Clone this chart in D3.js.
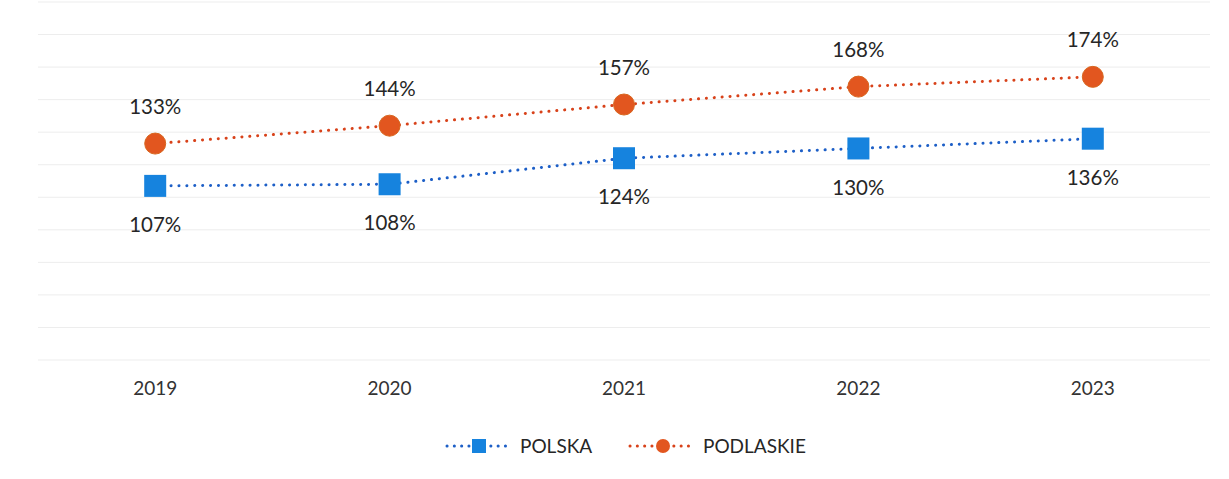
<!DOCTYPE html>
<html lang="pl">
<head>
<meta charset="UTF-8">
<script src="https://d3js.org/d3.v7.min.js"></script>
<style>
    body { margin: 0; background: #fff; }
    svg { display: block; font-family: Lato, "Open Sans", sans-serif; }
</style>
</head>
<body>
<svg width="1229" height="479"></svg>
<script>
// chart data
const years = ["2019", "2020", "2021", "2022", "2023"];
const polska = [107, 108, 124, 130, 136];
const podlaskie = [133, 144, 157, 168, 174];
const yTicks = d3.range(0, 221, 20);

const svg = d3.select("svg");
const margin = { left: 38, right: 19, top: 2, bottom: 119 };
const width = 1229, height = 479;

const x = d3.scaleBand()
    .domain(years)
    .range([margin.left, width - margin.right]);

const y = d3.scaleLinear()
    .domain([0, 220])
    .range([height - margin.bottom, margin.top]);

const cx = d => x(d) + x.bandwidth() / 2;

// gridlines
svg.append("g")
    .selectAll("line")
    .data(yTicks)
    .enter().append("line")
    .attr("x1", margin.left)
    .attr("x2", width - margin.right)
    .attr("y1", d => y(d))
    .attr("y2", d => y(d))
    .attr("stroke", "#ededed")
    .attr("stroke-width", 1);

// x axis labels
const xAxis = svg.append("g")
    .attr("transform", `translate(0,${y(0)})`)
    .call(d3.axisBottom(x).tickSize(0).tickPadding(22));
xAxis.select(".domain").remove();
xAxis.selectAll("text")
    .attr("font-size", 19)
    .attr("fill", "#333")
    .attr("font-family", "Lato, sans-serif");

const series = [
    { name: "POLSKA", values: polska, line: "#1d5fc7", fill: "#1683de", shape: "square", labelDy: 39 },
    { name: "PODLASKIE", values: podlaskie, line: "#d8421a", fill: "#e2561f", shape: "circle", labelDy: -37 }
];

const line = d3.line()
    .x((d, i) => cx(years[i]))
    .y(d => y(d));

function drawMarker(g, s, px, py) {
    if (s.shape === "square") {
        g.append("rect")
            .attr("x", px - 11).attr("y", py - 11)
            .attr("width", 22).attr("height", 22)
            .attr("fill", s.fill);
    } else {
        g.append("circle")
            .attr("cx", px).attr("cy", py)
            .attr("r", 10.5)
            .attr("fill", s.fill)
            .attr("stroke", "#d8661f")
            .attr("stroke-width", 1);
    }
}

series.forEach(s => {
    const g = svg.append("g");
    g.append("path")
        .datum(s.values)
        .attr("d", line)
        .attr("fill", "none")
        .attr("stroke", s.line)
        .attr("stroke-width", 3)
        .attr("stroke-linecap", "round")
        .attr("stroke-dasharray", "0.1 7.8");

    s.values.forEach((v, i) => drawMarker(g, s, cx(years[i]), y(v)));

    g.selectAll("text.lbl")
        .data(s.values)
        .enter().append("text")
        .attr("class", "lbl")
        .attr("x", (d, i) => cx(years[i]))
        .attr("y", d => y(d) + s.labelDy)
        .attr("dy", "0.35em")
        .attr("text-anchor", "middle")
        .attr("font-size", 20.5)
        .attr("fill", "#262626")
        .text(d => d + "%");
});

// legend
const legendY = 446;
const legendItems = [
    { s: series[0], x0: 447 },
    { s: series[1], x0: 630 }
];
legendItems.forEach(({ s, x0 }) => {
    const g = svg.append("g");
    g.append("line")
        .attr("x1", x0).attr("x2", x0 + 64)
        .attr("y1", legendY).attr("y2", legendY)
        .attr("stroke", s.line)
        .attr("stroke-width", 3)
        .attr("stroke-linecap", "round")
        .attr("stroke-dasharray", "0.1 7.2");
    if (s.shape === "square") {
        g.append("rect")
            .attr("x", x0 + 32 - 7).attr("y", legendY - 7)
            .attr("width", 14).attr("height", 14)
            .attr("fill", s.fill);
    } else {
        g.append("circle")
            .attr("cx", x0 + 33).attr("cy", legendY)
            .attr("r", 7)
            .attr("fill", s.fill);
    }
    g.append("text")
        .attr("x", x0 + 73)
        .attr("y", legendY)
        .attr("dy", "0.35em")
        .attr("font-size", 19)
        .attr("fill", "#262626")
        .text(s.name);
});
</script>
</body>
</html>
